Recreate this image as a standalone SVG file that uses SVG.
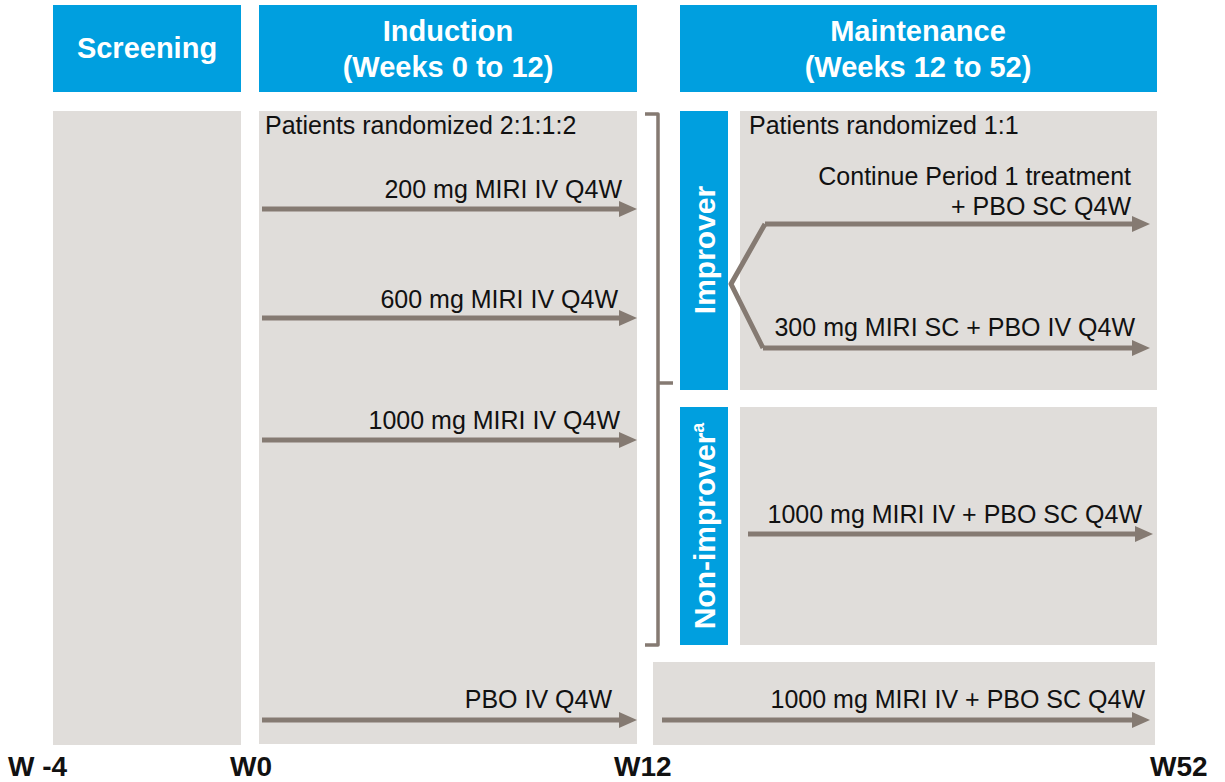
<svg xmlns="http://www.w3.org/2000/svg" width="1225" height="782" viewBox="0 0 1225 782">
<style>
.hdr{fill:#009FDF}
.box{fill:#E0DDDA}
.ht{font-family:"Liberation Sans",Arial,sans-serif;font-weight:bold;font-size:29px;fill:#FFFFFF;text-anchor:middle}
.vt{font-family:"Liberation Sans",Arial,sans-serif;font-weight:bold;font-size:30px;fill:#FFFFFF;text-anchor:middle}
.t{font-family:"Liberation Sans",Arial,sans-serif;font-size:25px;fill:#111111}
.r{text-anchor:end}
.ax{font-family:"Liberation Sans",Arial,sans-serif;font-weight:bold;font-size:28px;fill:#111111}
.arr{stroke:#857A72;stroke-width:5;fill:none;marker-end:url(#ah)}
.br{stroke:#857A72;stroke-width:3.5;fill:none;stroke-linejoin:round}
</style>
<defs>
<marker id="ah" markerUnits="userSpaceOnUse" markerWidth="20" markerHeight="18" refX="8" refY="8" orient="auto">
<path d="M0,0 L18,8 L0,16 z" fill="#857A72"/>
</marker>
</defs>

<g id="screening">
<rect class="hdr" x="53" y="5" width="188" height="87"/>
<text class="ht" x="147" y="58">Screening</text>
<rect class="box" x="53" y="111" width="188" height="634"/>
</g>

<g id="induction">
<rect class="hdr" x="259" y="5" width="378" height="87"/>
<text class="ht" x="448" y="41">Induction</text>
<text class="ht" x="448" y="77">(Weeks 0 to 12)</text>
<rect class="box" x="259" y="111" width="378" height="633"/>
<text class="t" x="265" y="134">Patients randomized 2:1:1:2</text>
<text class="t r" x="622" y="198">200 mg MIRI IV Q4W</text>
<text class="t r" x="618" y="308">600 mg MIRI IV Q4W</text>
<text class="t r" x="620" y="429">1000 mg MIRI IV Q4W</text>
<text class="t r" x="612" y="708">PBO IV Q4W</text>
</g>

<g id="maintenance">
<rect class="hdr" x="680" y="5" width="477" height="87"/>
<text class="ht" x="918" y="41">Maintenance</text>
<text class="ht" x="918" y="77">(Weeks 12 to 52)</text>
</g>

<g id="improver">
<rect class="hdr" x="680" y="111" width="48" height="279"/>
<text class="vt" transform="translate(715,250) rotate(-90)">Improver</text>
<rect class="box" x="740" y="111" width="417" height="279"/>
<text class="t" x="749" y="134">Patients randomized 1:1</text>
<text class="t r" x="1131" y="185">Continue Period 1 treatment</text>
<text class="t r" x="1131" y="215">+ PBO SC Q4W</text>
<text class="t r" x="1135" y="336">300 mg MIRI SC + PBO IV Q4W</text>
</g>

<g id="non-improver">
<rect class="hdr" x="680" y="407" width="48" height="238"/>
<text class="vt" transform="translate(715,526) rotate(-90)">Non-improver<tspan font-size="18" dy="-11">a</tspan></text>
<rect class="box" x="740" y="407" width="417" height="238"/>
<text class="t r" x="1142" y="523">1000 mg MIRI IV + PBO SC Q4W</text>
</g>

<g id="placebo-maintenance">
<rect class="box" x="653" y="662" width="502" height="83"/>
<text class="t r" x="1145" y="708">1000 mg MIRI IV + PBO SC Q4W</text>
</g>

<g id="axis">
<text class="ax" x="8" y="776">W -4</text>
<text class="ax" x="230" y="776">W0</text>
<text class="ax" x="614" y="776">W12</text>
<text class="ax" x="1150" y="776">W52</text>
</g>

<g id="connectors">
<line class="arr" x1="262" y1="209" x2="627" y2="209"/>
<line class="arr" x1="262" y1="318" x2="627" y2="318"/>
<line class="arr" x1="262" y1="440" x2="627" y2="440"/>
<line class="arr" x1="262" y1="720" x2="627" y2="720"/>
<polyline class="arr" points="765,224 1140,224"/>
<polyline class="arr" points="763,348 1140,348"/>
<polyline class="br" points="765,224 731,284 763,348" style="stroke-width:5"/>
<line class="arr" x1="748" y1="534" x2="1143" y2="534"/>
<line class="arr" x1="662" y1="720" x2="1140" y2="720"/>
<path class="br" d="M645,114 L658,114 L658,383 L673,383 M658,383 L658,645 L645,645"/>
</g>
</svg>
